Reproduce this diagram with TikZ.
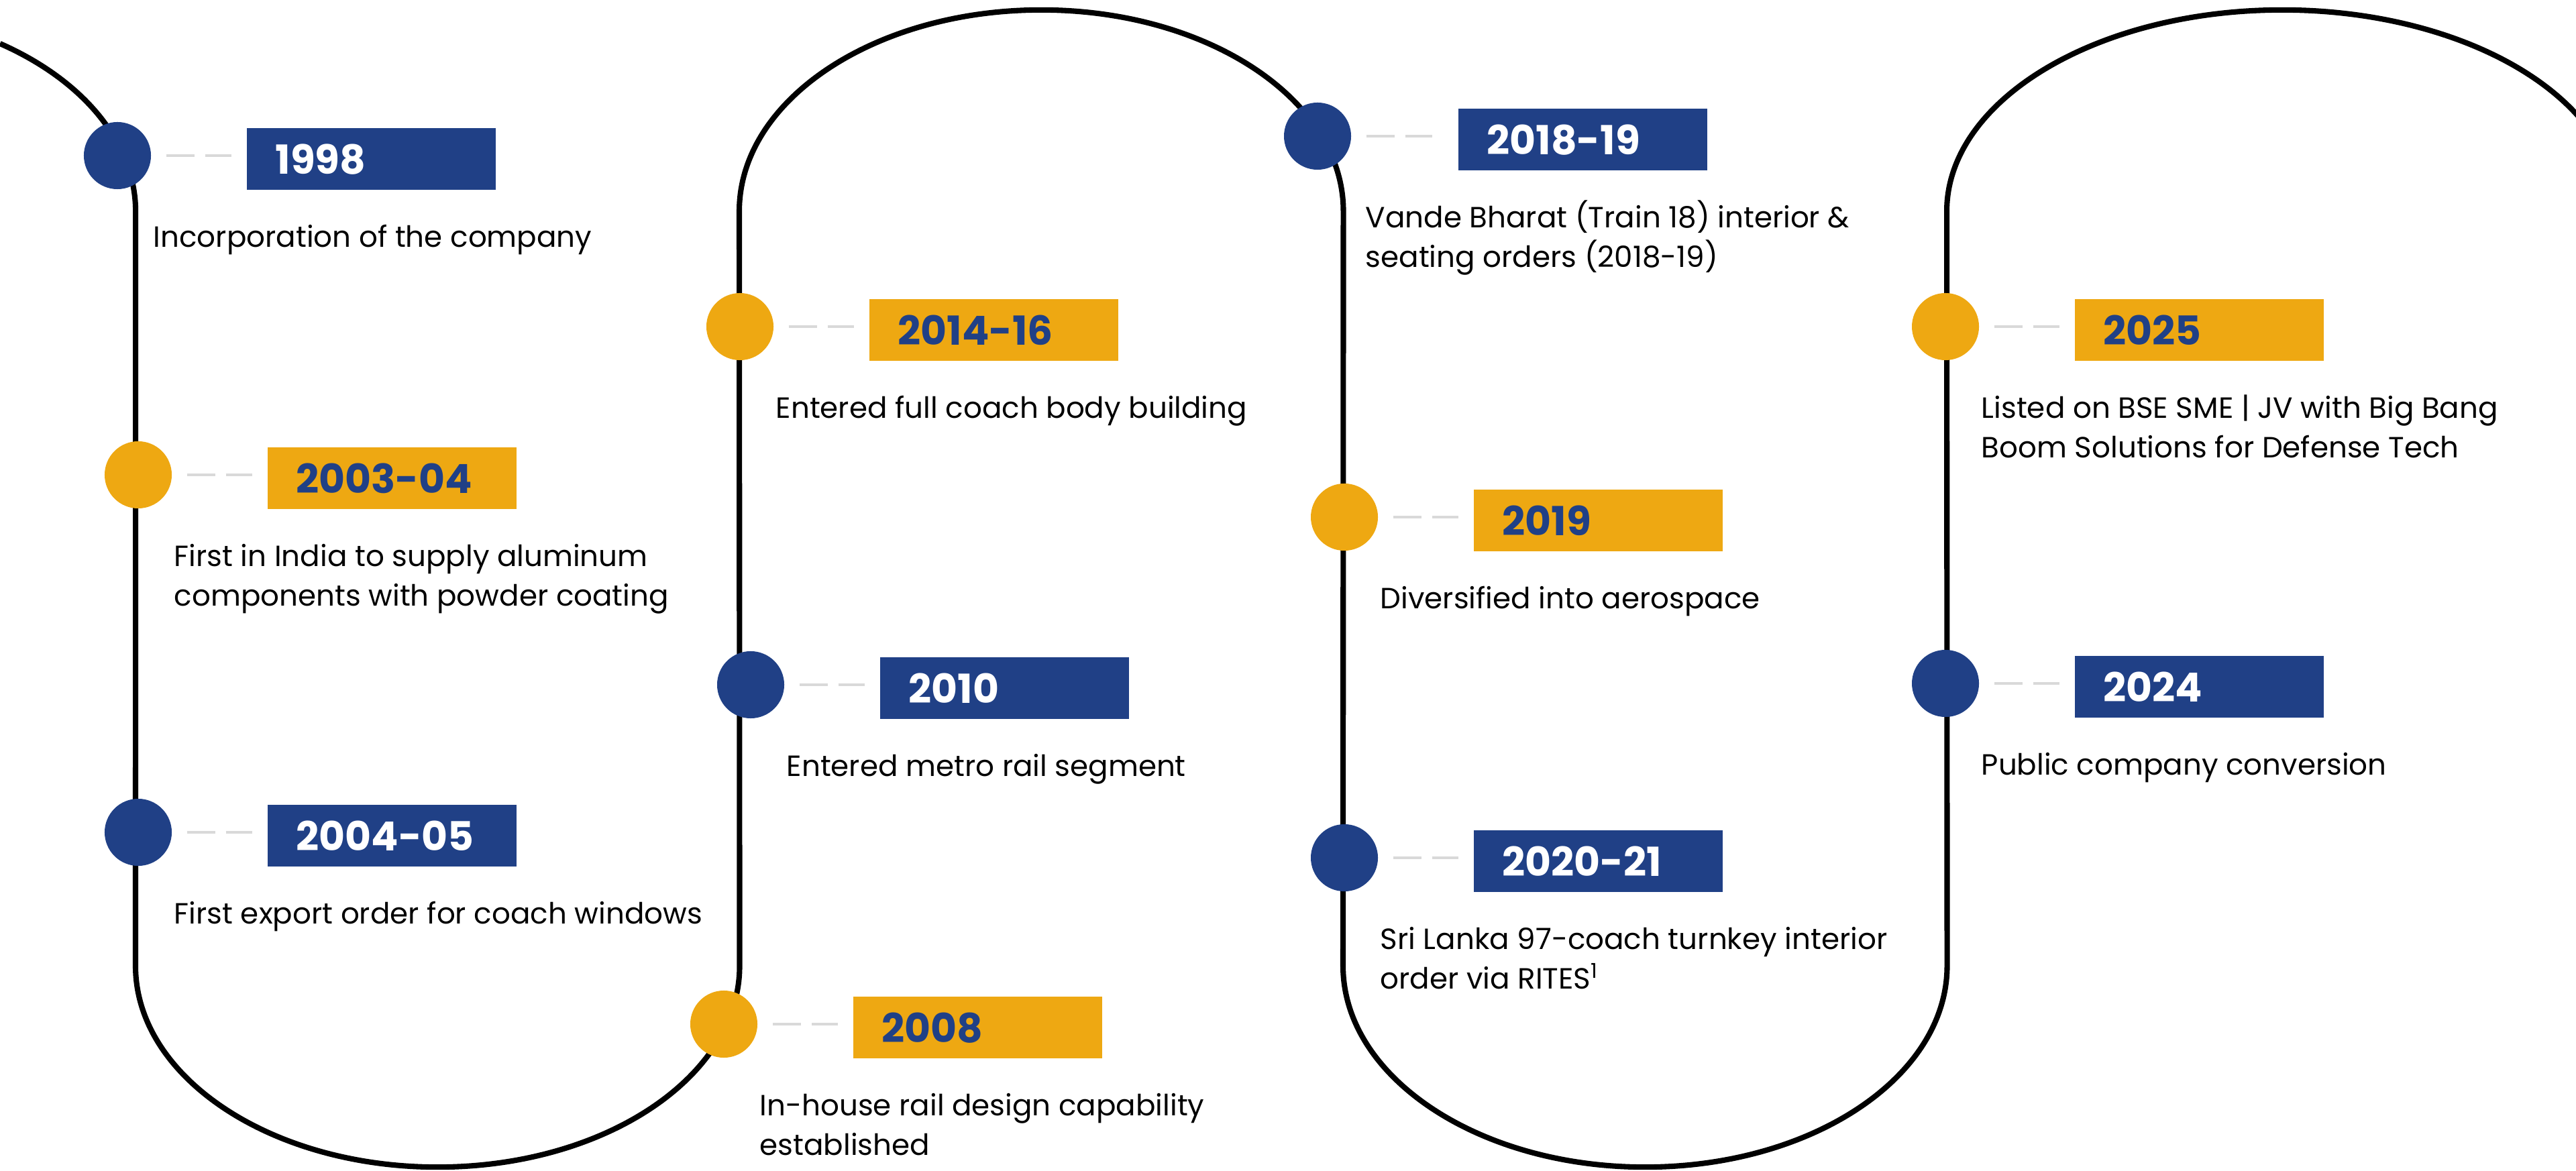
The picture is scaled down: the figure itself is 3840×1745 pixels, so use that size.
\documentclass[tikz,border=0pt]{standalone}
\usepackage{fontspec}
\setmainfont{Poppins}
\definecolor{navyblue}{RGB}{32, 64, 134}
\definecolor{goldyellow}{RGB}{238, 168, 18}
\definecolor{dashgray}{RGB}{217, 217, 217}
\usepackage{tikz}
\usetikzlibrary{positioning, calc}
\newcommand{\yearfont}{\fontsize{17}{19}\selectfont\bfseries}
\newcommand{\descfont}{\fontsize{12.4}{16.8}\selectfont}
\tikzset{
  track/.style={line width=2.3pt, black},
  dot/.style={circle, minimum size=1cm, inner sep=0pt},
  yearbox/.style={rectangle, minimum height=0.92cm, text width=2.85cm, inner xsep=0.43cm, inner ysep=0pt, align=left, text depth=0pt, font=\yearfont},
  desc/.style={anchor=base west, align=left, inner sep=0pt, font=\descfont},
  desctwo/.style={desc, yshift=-16.8pt},
  link/.style={draw=dashgray, line width=0.04cm, dash pattern=on 0.42cm off 0.16cm, shorten <=0.22cm, shorten >=0.22cm}
}

\begin{document}
\begin{tikzpicture}[x=0.01cm, y=0.01cm]
  \clip (0,0) rectangle (3840,1745);

  % Track
  \draw[track] (0,1680) arc[start angle=56.56, end angle=0, x radius=4.5cm, y radius=3cm]
    -- (202,305) arc[start angle=180, end angle=360, x radius=4.5cm, y radius=3cm]
    -- (1102,1430) arc[start angle=180, end angle=0, x radius=4.5cm, y radius=3cm]
    -- (2002,305) arc[start angle=180, end angle=360, x radius=4.5cm, y radius=3cm]
    -- (2902,1430) arc[start angle=180, end angle=20, x radius=5cm, y radius=3cm];

  % 1998
  \node[dot, fill=navyblue] (c1) at (175,1513) {};
  \node[yearbox, fill=navyblue, text=white, right=1.41cm of c1, yshift=-0.05cm] (b1) {1998};
  \node[desc] (d1) at ([shift={(0.53cm,-1.36cm)}]c1.center) {Incorporation of the company};

  % 2003-04
  \node[dot, fill=goldyellow] (c2) at (206,1037) {};
  \node[yearbox, fill=goldyellow, text=navyblue, right=1.41cm of c2, yshift=-0.05cm] (b2) {2003-04};
  \node[desctwo] (d2) at ([shift={(0.53cm,-1.36cm)}]c2.center) {First in India to supply aluminum\\components with powder coating};

  % 2004-05
  \node[dot, fill=navyblue] (c3) at (206,504) {};
  \node[yearbox, fill=navyblue, text=white, right=1.41cm of c3, yshift=-0.05cm] (b3) {2004-05};
  \node[desc] (d3) at ([shift={(0.53cm,-1.36cm)}]c3.center) {First export order for coach windows};

  % 2008
  \node[dot, fill=goldyellow] (c4) at (1079,218) {};
  \node[yearbox, fill=goldyellow, text=navyblue, right=1.41cm of c4, yshift=-0.05cm] (b4) {2008};
  \node[desctwo] (d4) at ([shift={(0.53cm,-1.36cm)}]c4.center) {In-house rail design capability\\established};

  % 2010
  \node[dot, fill=navyblue] (c5) at (1119,724) {};
  \node[yearbox, fill=navyblue, text=white, right=1.41cm of c5, yshift=-0.05cm] (b5) {2010};
  \node[desc] (d5) at ([shift={(0.53cm,-1.36cm)}]c5.center) {Entered metro rail segment};

  % 2014-16
  \node[dot, fill=goldyellow] (c6) at (1103,1258) {};
  \node[yearbox, fill=goldyellow, text=navyblue, right=1.41cm of c6, yshift=-0.05cm] (b6) {2014-16};
  \node[desc] (d6) at ([shift={(0.53cm,-1.36cm)}]c6.center) {Entered full coach body building};

  % 2018-19
  \node[dot, fill=navyblue] (c7) at (1964,1542) {};
  \node[yearbox, fill=navyblue, text=white, right=1.58cm of c7, yshift=-0.05cm] (b7) {2018-19};
  \node[desctwo] (d7) at ([shift={(0.71cm,-1.36cm)}]c7.center) {Vande Bharat (Train 18) interior \&\\seating orders (2018-19)};

  % 2019
  \node[dot, fill=goldyellow] (c8) at (2004,974) {};
  \node[yearbox, fill=goldyellow, text=navyblue, right=1.41cm of c8, yshift=-0.05cm] (b8) {2019};
  \node[desc] (d8) at ([shift={(0.53cm,-1.36cm)}]c8.center) {Diversified into aerospace};

  % 2020-21
  \node[dot, fill=navyblue] (c9) at (2004,466) {};
  \node[yearbox, fill=navyblue, text=white, right=1.41cm of c9, yshift=-0.05cm] (b9) {2020-21};
  \node[desctwo] (d9) at ([shift={(0.53cm,-1.36cm)}]c9.center) {Sri Lanka 97-coach turnkey interior\\order via RITES\textsuperscript{1}};

  % 2025
  \node[dot, fill=goldyellow] (c10) at (2900,1258) {};
  \node[yearbox, fill=goldyellow, text=navyblue, right=1.41cm of c10, yshift=-0.05cm] (b10) {2025};
  \node[desctwo] (d10) at ([shift={(0.53cm,-1.36cm)}]c10.center) {Listed on BSE SME | JV with Big Bang\\Boom Solutions for Defense Tech};

  % 2024
  \node[dot, fill=navyblue] (c11) at (2900,726) {};
  \node[yearbox, fill=navyblue, text=white, right=1.41cm of c11, yshift=-0.05cm] (b11) {2024};
  \node[desc] (d11) at ([shift={(0.53cm,-1.36cm)}]c11.center) {Public company conversion};

  % Dashed links
  \draw[link] (c1) -- (c1 -| b1.west);
  \draw[link] (c2) -- (c2 -| b2.west);
  \draw[link] (c3) -- (c3 -| b3.west);
  \draw[link] (c4) -- (c4 -| b4.west);
  \draw[link] (c5) -- (c5 -| b5.west);
  \draw[link] (c6) -- (c6 -| b6.west);
  \draw[link, shorten >=0.38cm] (c7) -- (c7 -| b7.west);
  \draw[link] (c8) -- (c8 -| b8.west);
  \draw[link] (c9) -- (c9 -| b9.west);
  \draw[link] (c10) -- (c10 -| b10.west);
  \draw[link] (c11) -- (c11 -| b11.west);
\end{tikzpicture}
\end{document}
